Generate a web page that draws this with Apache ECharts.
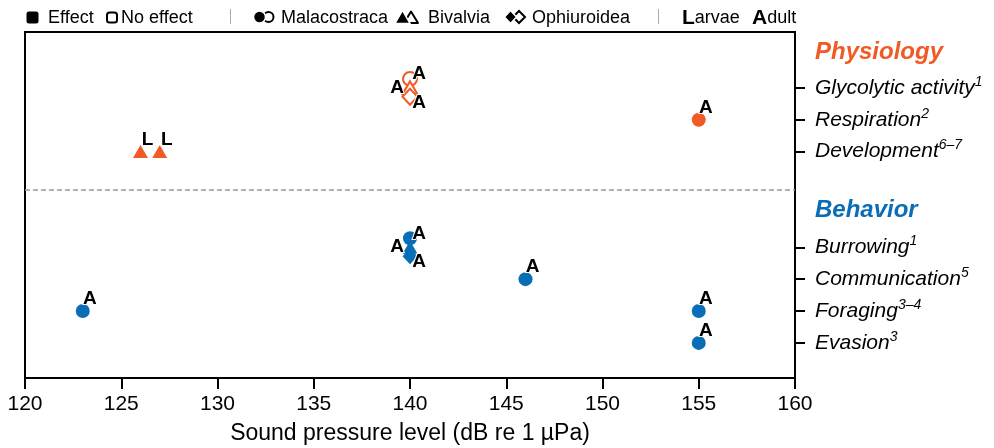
<!DOCTYPE html>
<html>
<head>
<meta charset="utf-8">
<script src="https://cdn.jsdelivr.net/npm/echarts@6/dist/echarts.min.js"></script>
<style>
  html, body { margin: 0; background: #fff; }
  #chart { width: 994px; height: 448px; }
</style>
</head>
<body>
<div id="chart"></div>
<script>
// rows of the right axis, bottom to top
const rowNames = ['Evasion', 'Foraging', 'Communication', 'Burrowing', 'Development', 'Respiration', 'Glycolytic activity'];
const rowPos = [1, 2, 3, 4, 7, 8, 9];
const rowRefs = ['3', '3–4', '5', '1', '6–7', '2', '1'];
const rowGroup = ['Behavior', 'Behavior', 'Behavior', 'Behavior', 'Physiology', 'Physiology', 'Physiology'];
const groupNames = ['Behavior', 'Physiology'];
const groupPos = [5.15, 10.1];
const dividerPos = 5.8;

// one entry per study
const splValues = [140, 140, 140, 155, 126, 127, 140, 140, 140, 146, 123, 155, 155];
const studyRow = ['Glycolytic activity', 'Glycolytic activity', 'Glycolytic activity', 'Respiration', 'Development', 'Development',
  'Burrowing', 'Burrowing', 'Burrowing', 'Communication', 'Foraging', 'Foraging', 'Evasion'];
const studyTaxon = ['Malacostraca', 'Bivalvia', 'Ophiuroidea', 'Malacostraca', 'Bivalvia', 'Bivalvia',
  'Malacostraca', 'Bivalvia', 'Ophiuroidea', 'Malacostraca', 'Malacostraca', 'Malacostraca', 'Malacostraca'];
const studyEffect = [false, false, false, true, true, true, true, true, true, true, true, true, true];
const studyStage = ['A', 'A', 'A', 'A', 'L', 'L', 'A', 'A', 'A', 'A', 'A', 'A', 'A'];
const studyJitter = [0.28, 0, -0.28, 0, 0, 0, 0.28, 0, -0.28, 0, 0, 0, 0];

const font = '"Liberation Sans", Arial, sans-serif';
const groupColor = { Physiology: '#F15A24', Behavior: '#0A6EB6' };
const taxonSymbol = { Malacostraca: 'circle', Bivalvia: 'triangle', Ophiuroidea: 'diamond' };
const taxonSize = { Malacostraca: 14, Bivalvia: [15, 13], Ophiuroidea: [15, 16] };

// label offsets: single points get the letter top right,
// the jittered trio at 140 gets them spread around
function labelOffset(i) {
  const crowded = studyJitter.some((v, j) => v !== 0 && studyRow[j] === studyRow[i]);
  if (!crowded) return [7, -12];
  if (studyJitter[i] > 0) return [9, -5];
  if (studyJitter[i] < 0) return [9, 6];
  return [-13, 0];
}

const points = splValues.map((x, i) => {
  const r = rowNames.indexOf(studyRow[i]);
  const c = groupColor[rowGroup[r]];
  return {
    value: [x, rowPos[r] + studyJitter[i]],
    symbol: taxonSymbol[studyTaxon[i]],
    symbolSize: taxonSize[studyTaxon[i]],
    itemStyle: studyEffect[i]
      ? { color: c, opacity: 1 }
      : { color: '#fff', borderColor: c, borderWidth: 2, opacity: 1 },
    label: {
      show: true,
      formatter: studyStage[i],
      position: 'inside',
      offset: labelOffset(i),
      fontFamily: font,
      fontWeight: 'bold',
      fontSize: 19,
      color: '#000',
      opacity: 1,
      textBorderColor: '#fff',
      textBorderWidth: 2
    }
  };
});

function near(a, b) { return Math.abs(a - b) < 1e-6; }

function rightLabel(v) {
  for (let i = 0; i < rowPos.length; i++) {
    if (near(v, rowPos[i])) return '{n|' + rowNames[i] + '}{s|' + rowRefs[i] + '}';
  }
  for (let i = 0; i < groupPos.length; i++) {
    if (near(v, groupPos[i])) return '{' + (groupNames[i] === 'Physiology' ? 'p' : 'b') + '|' + groupNames[i] + '}';
  }
  return '';
}

const legendFont = '18px ' + font;
const legendY = 18;

const myChart = echarts.init(document.getElementById('chart'));

const option = {
  animation: false,
  textStyle: { fontFamily: font },
  grid: {
    left: 25, right: 199, top: 32, bottom: 70,
    show: true, borderColor: '#000', borderWidth: 2,
    outerBoundsMode: 'none'
  },
  xAxis: {
    type: 'value',
    min: 120, max: 160, interval: 5,
    splitLine: { show: false },
    axisLine: { show: true, onZero: false, lineStyle: { color: '#000', width: 2 } },
    axisTick: { show: true, length: 11, lineStyle: { color: '#000', width: 2 } },
    axisLabel: { fontSize: 21, color: '#000', margin: 16 },
    name: 'Sound pressure level (dB re 1 µPa)',
    nameLocation: 'middle',
    nameGap: 44,
    nameTextStyle: { fontSize: 23, color: '#000' }
  },
  yAxis: {
    type: 'value',
    position: 'right',
    min: -0.1, max: 10.75,
    splitLine: { show: false },
    axisLine: { show: true, onZero: false, lineStyle: { color: '#000', width: 2 } },
    axisTick: { show: true, length: 10, customValues: rowPos, lineStyle: { color: '#000', width: 2 } },
    axisLabel: {
      customValues: rowPos.concat(groupPos),
      margin: 20,
      formatter: rightLabel,
      rich: {
        n: { fontSize: 21, fontStyle: 'italic', color: '#000', lineHeight: 26 },
        s: { fontSize: 14, fontStyle: 'italic', color: '#000', lineHeight: 12, verticalAlign: 'top' },
        p: { fontSize: 24, fontStyle: 'italic', fontWeight: 'bold', color: groupColor.Physiology, lineHeight: 28 },
        b: { fontSize: 24, fontStyle: 'italic', fontWeight: 'bold', color: groupColor.Behavior, lineHeight: 28 }
      }
    }
  },
  series: [
    {
      type: 'scatter',
      data: points,
      itemStyle: { opacity: 1 },
      markLine: {
        silent: true,
        symbol: ['none', 'none'],
        label: { show: false },
        lineStyle: { color: '#999', width: 1.5, type: [5, 3] },
        data: [{ yAxis: dividerPos }]
      }
    }
  ],
  graphic: [
    { type: 'rect', shape: { x: 26.5, y: 11.5, width: 12, height: 12, r: 2.5 }, style: { fill: '#000' } },
    { type: 'text', x: 48, y: legendY, style: { text: 'Effect', font: legendFont, fill: '#000', verticalAlign: 'middle' } },
    { type: 'rect', shape: { x: 107, y: 12.5, width: 10, height: 10, r: 2.5 }, style: { fill: '#fff', stroke: '#000', lineWidth: 2 } },
    { type: 'text', x: 121, y: legendY, style: { text: 'No effect', font: legendFont, fill: '#000', verticalAlign: 'middle' } },
    { type: 'line', shape: { x1: 230.5, y1: 9, x2: 230.5, y2: 24 }, style: { stroke: '#aaa', lineWidth: 1 } },

    { type: 'circle', shape: { cx: 268.5, cy: legendY - 1, r: 5 }, style: { fill: '#fff', stroke: '#000', lineWidth: 2 } },
    { type: 'circle', shape: { cx: 259.5, cy: legendY - 1, r: 6 }, style: { fill: '#000', stroke: '#fff', lineWidth: 1.5 } },
    { type: 'text', x: 281, y: legendY, style: { text: 'Malacostraca', font: legendFont, fill: '#000', verticalAlign: 'middle' } },

    { type: 'polygon', shape: { points: [[404, 23], [411, 11.5], [418, 23]] }, style: { fill: '#fff', stroke: '#000', lineWidth: 2, lineJoin: 'round' } },
    { type: 'polygon', shape: { points: [[395, 23.5], [402.5, 10.5], [410, 23.5]] }, style: { fill: '#000', stroke: '#fff', lineWidth: 1.5 } },
    { type: 'text', x: 428, y: legendY, style: { text: 'Bivalvia', font: legendFont, fill: '#000', verticalAlign: 'middle' } },

    { type: 'polygon', shape: { points: [[513, 17], [519, 11], [525, 17], [519, 23]] }, style: { fill: '#fff', stroke: '#000', lineWidth: 2 } },
    { type: 'polygon', shape: { points: [[504.5, 17], [510.5, 10.5], [516.5, 17], [510.5, 23.5]] }, style: { fill: '#000', stroke: '#fff', lineWidth: 1.5 } },
    { type: 'text', x: 532, y: legendY, style: { text: 'Ophiuroidea', font: legendFont, fill: '#000', verticalAlign: 'middle' } },

    { type: 'line', shape: { x1: 658.5, y1: 9, x2: 658.5, y2: 24 }, style: { stroke: '#aaa', lineWidth: 1 } },
    {
      type: 'text', x: 682, y: legendY,
      style: { text: '{k|L}arvae', font: legendFont, fill: '#000', verticalAlign: 'middle',
        rich: { k: { fontSize: 21, fontWeight: 'bold', fontFamily: font, fill: '#000' } } }
    },
    {
      type: 'text', x: 752, y: legendY,
      style: { text: '{k|A}dult', font: legendFont, fill: '#000', verticalAlign: 'middle',
        rich: { k: { fontSize: 21, fontWeight: 'bold', fontFamily: font, fill: '#000' } } }
    }
  ]
};

myChart.setOption(option);
</script>
</body>
</html>
